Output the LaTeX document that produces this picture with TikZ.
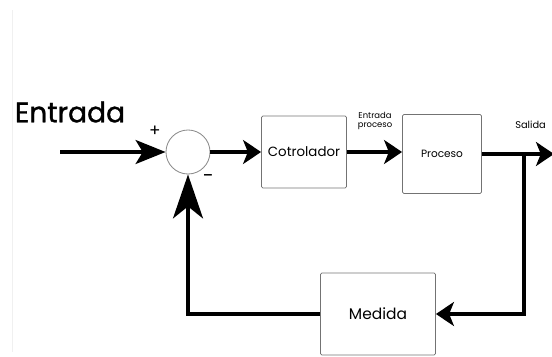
\documentclass[tikz,border=0pt]{standalone}
\usepackage{fontspec}
\setmainfont{Poppins}
\newfontfamily\heavyfont{Poppins}[FakeBold=1.2]
\usetikzlibrary{positioning,arrows.meta}

\begin{document}
\begin{tikzpicture}[
  x=0.025cm, y=-0.025cm,
  blk/.style={draw=black!55, line width=0.6pt, rounded corners=1pt, align=center, inner sep=0pt},
  sumc/.style={circle, draw=black!45, line width=0.6pt, minimum size=1.1cm, inner sep=0pt},
  sig/.style={line width=2.2pt, -{Stealth[length=4.5mm,width=6mm,inset=1.2mm]}},
  lbl/.style={font=\fontsize{6}{6.5}\selectfont, align=center, inner sep=0pt},
]
  \useasboundingbox (0,0) rectangle (552,356);
  \clip (0,0) rectangle (552,356);
  \draw[black!6, line width=0.6pt] (12,10) -- (12,352);

  % blocks
  \node[font=\heavyfont\fontsize{20}{24}\selectfont] (inlbl) at (70,112) {Entrada};
  \coordinate (in) at (60,152);
  \node[sumc] (sum) at (188,152) {};
  \node[blk, minimum width=2.125cm, minimum height=1.8cm,
        font=\fontsize{9.5}{10}\selectfont] (ctrl) at (304,152) {Cotrolador};
  \node[blk, minimum width=1.975cm, minimum height=1.975cm,
        font=\fontsize{7.5}{8}\selectfont] (proc) at (442,154) {Proceso};
  \node[blk, minimum width=2.875cm, minimum height=2.05cm,
        font=\fontsize{11}{12}\selectfont] (meas) at (378,314) {Medida};
  \coordinate (out) at (554,154);
  \coordinate (br) at (524,154);

  % signs and labels
  \node[font=\fontsize{12}{12}\selectfont, inner sep=0pt] (plus) at (155,131) {+};
  \node[font=\fontsize{14}{14}\selectfont, inner sep=0pt] (minus) at (208,179) {\textminus};
  \node[lbl] (uin) at (375,121) {Entrada\\proceso};
  \node[font=\fontsize{7}{8}\selectfont, anchor=west, inner sep=0pt] (ylbl) at (515,125) {Salida};

  % connectors
  \draw[sig, -{Stealth[length=7.5mm,width=6mm,inset=1.8mm]}] (in) -- (sum.west);
  \draw[sig] (sum.east) -- (ctrl.west);
  \draw[sig] (ctrl.east) -- (ctrl.east -| proc.west);
  \draw[sig] (proc.east) -- (out);
  \draw[sig] (br) |- (meas.east);
  \draw[sig, -{Stealth[length=11mm,width=7.5mm,inset=3mm]}] (meas.west) -| (sum.south);
\end{tikzpicture}
\end{document}
